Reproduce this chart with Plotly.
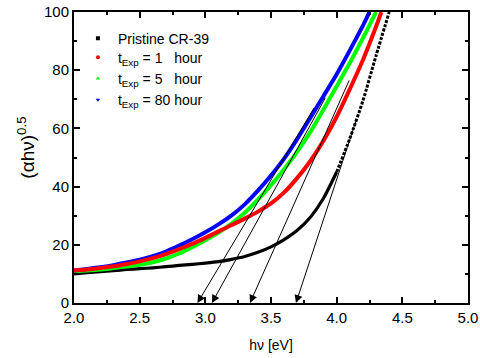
import plotly.graph_objects as go

# ---- data ----
hv = [2.0, 2.1, 2.2, 2.3, 2.4, 2.5, 2.6, 2.7, 2.8, 2.9, 3.0, 3.1, 3.2, 3.3,
      3.4, 3.5, 3.6, 3.7, 3.8, 3.9, 4.0, 4.1, 4.2, 4.3, 4.4]
pristine = [10.0, 10.4, 10.8, 11.1, 11.5, 11.8, 12.1, 12.5, 12.9, 13.3, 13.7,
            14.2, 15.0, 16.0, 17.4, 19.3, 21.8, 25.0, 29.5, 36.0, 45.0, 56.5,
            69.5, 85.0, 100.0]

hv_1h = [2.0, 2.1, 2.2, 2.3, 2.4, 2.5, 2.6, 2.7, 2.8, 2.9, 3.0, 3.1, 3.2, 3.3,
         3.4, 3.5, 3.6, 3.7, 3.8, 3.9, 4.0, 4.1, 4.2, 4.3, 4.34]
exp_1h = [11.2, 11.5, 12.0, 12.6, 13.4, 14.3, 15.4, 16.8, 18.5, 20.3, 22.4,
          24.6, 26.8, 29.0, 31.4, 34.2, 38.0, 43.0, 48.8, 55.8, 64.0, 73.5,
          83.5, 95.0, 100.0]

hv_5h = [2.0, 2.1, 2.2, 2.3, 2.4, 2.5, 2.6, 2.7, 2.8, 2.9, 3.0, 3.1, 3.2, 3.3,
         3.4, 3.5, 3.6, 3.7, 3.8, 3.9, 4.0, 4.1, 4.2, 4.3]
exp_5h = [11.0, 11.2, 11.5, 12.0, 12.5, 13.1, 14.0, 15.3, 17.0, 19.2, 21.6,
          24.2, 27.3, 31.0, 35.5, 40.5, 46.0, 52.0, 58.8, 66.5, 74.5, 82.5,
          91.0, 100.0]

hv_80h = [2.0, 2.1, 2.2, 2.3, 2.4, 2.5, 2.6, 2.7, 2.8, 2.9, 3.0, 3.1, 3.2,
          3.3, 3.4, 3.5, 3.6, 3.7, 3.8, 3.9, 4.0, 4.1, 4.2, 4.25]
exp_80h = [11.2, 11.7, 12.3, 13.0, 13.9, 14.9, 16.1, 17.7, 19.7, 21.9, 24.3,
           27.0, 30.1, 33.9, 38.6, 43.8, 49.6, 56.4, 63.7, 71.1, 78.6, 86.8,
           95.3, 100.0]

# tangent (extrapolation) lines: intercept on hv axis and upper end point
tan_x0 = [2.94, 3.05, 3.34, 3.69]
tan_y0 = [0, 0, 0, 0]
tan_x1 = [3.834, 3.92, 4.10, 4.15]
tan_y1 = [67.5, 71.0, 77.0, 63.0]

names = ["Pristine CR-39",
         "t<sub>Exp</sub> = 1\u00a0\u00a0\u00a0hour",
         "t<sub>Exp</sub> = 5\u00a0\u00a0\u00a0hour",
         "t<sub>Exp</sub> = 80 hour"]
colors = ["#000000", "#FF0000", "#00FF00", "#0000FF"]
symbols = ["square", "circle", "triangle-up", "triangle-down"]

x_ticks = [2.0, 2.5, 3.0, 3.5, 4.0, 4.5, 5.0]
y_ticks = [0, 20, 40, 60, 80, 100]

FONT = "Arial, Liberation Sans, sans-serif"

fig = go.Figure()

# pristine: solid lower part, dotted upper part (sparse markers in reference)
split = hv.index(4.0)
fig.add_trace(go.Scatter(x=hv[:split + 1], y=pristine[:split + 1], mode="lines",
                         line=dict(color="black", width=3.2, shape="spline", smoothing=0.6),
                         showlegend=False, hoverinfo="skip"))
fig.add_trace(go.Scatter(x=hv[split:], y=pristine[split:], mode="lines",
                         line=dict(color="black", width=3, shape="spline", smoothing=0.6,
                                   dash="3px,1.5px"),
                         showlegend=False, hoverinfo="skip"))

series = [None, (hv_1h, exp_1h), (hv_5h, exp_5h), (hv_80h, exp_80h)]
# draw order: green, blue, red (red on top as in reference)
for i in [2, 3, 1]:
    xs, ys = series[i]
    fig.add_trace(go.Scatter(x=xs, y=ys, mode="lines",
                             line=dict(color=colors[i], width=4, shape="spline", smoothing=0.6),
                             showlegend=False, hoverinfo="skip"))

# legend entries (marker symbols only)
for i in range(4):
    fig.add_trace(go.Scatter(x=[None], y=[None], mode="markers", name=names[i],
                             marker=dict(color=colors[i], symbol=symbols[i], size=4),
                             legend="legend" if i == 0 else "legend2",
                             legendrank=i + 1))

for x0, y0, x1, y1 in zip(tan_x0, tan_y0, tan_x1, tan_y1):
    fig.add_annotation(x=x0, y=y0, ax=x1, ay=y1, xref="x", yref="y",
                       axref="x", ayref="y", showarrow=True, text="",
                       arrowhead=2, arrowsize=1.6, arrowwidth=1,
                       arrowcolor="black", standoff=0, startstandoff=0)

# y-axis title as a rotated annotation (placed like the reference)
fig.add_annotation(text="(\u03b1h\u03bd)<sup>0.5</sup>", textangle=-90,
                   xref="paper", yref="paper", x=-0.121, y=0.535,
                   xanchor="center", yanchor="middle", showarrow=False,
                   font=dict(family=FONT, size=19, color="black"))

axis_common = dict(showline=True, linecolor="black", linewidth=2, mirror="ticks",
                   ticks="inside", ticklen=6, tickwidth=1.5, tickcolor="black",
                   showgrid=False, zeroline=False, automargin=False,
                   tickfont=dict(family=FONT, size=15, color="black"))

fig.update_xaxes(range=[2.0, 5.0], tickvals=x_ticks,
                 ticktext=[f"{v:.1f}" for v in x_ticks],
                 minor=dict(ticks="inside", dtick=0.25, tick0=2.0, ticklen=3,
                            tickwidth=1.5, tickcolor="black", showgrid=False),
                 title=dict(text="h\u03bd [eV]", font=dict(family=FONT, size=14, color="black"),
                            standoff=15),
                 **axis_common)
fig.update_yaxes(range=[0, 100], tickvals=y_ticks, ticktext=[str(v) for v in y_ticks],
                 minor=dict(ticks="inside", dtick=10, tick0=0, ticklen=3,
                            tickwidth=1.5, tickcolor="black", showgrid=False),
                 **axis_common)

leg_common = dict(xanchor="left", yanchor="top", bgcolor="rgba(0,0,0,0)",
                  borderwidth=0, font=dict(family=FONT, size=14, color="black"),
                  itemsizing="trace", tracegroupgap=0)

fig.update_layout(width=480, height=358,
                  margin=dict(l=74, r=12, t=12, b=55, pad=0),
                  paper_bgcolor="white", plot_bgcolor="white",
                  font=dict(family=FONT, color="black"),
                  legend=dict(x=0.01, y=0.963, **leg_common),
                  legend2=dict(x=0.01, y=0.898, **leg_common))

fig.write_html("out.html")
